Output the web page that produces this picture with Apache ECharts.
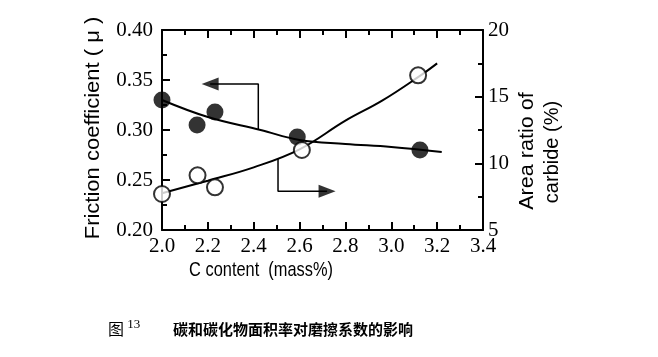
<!DOCTYPE html>
<html><head><meta charset="utf-8">
<script src="https://cdn.jsdelivr.net/npm/echarts@6/dist/echarts.min.js"></script>
<style>html,body{margin:0;padding:0;background:#fff}#c{width:658px;height:357px}</style>
</head><body><div id="c"></div>
<script>
// C content (mass%)
const frictionPts = [[2.0,0.330],[2.153,0.305],[2.231,0.318],[2.59,0.293],[3.125,0.280]];
const areaPts = [[2.0,7.7],[2.155,9.1],[2.231,8.2],[2.61,11.0],[3.117,16.6]];
const frictionFit = [[2.0,0.330],[2.2,0.313],[2.43,0.300],[2.6,0.290],[2.8,0.286],[3.0,0.283],[3.22,0.278]];
const areaFit = [[2.0,7.75],[2.2,8.7],[2.4,9.7],[2.6,11.05],[2.8,13.2],[2.96,14.7],[3.12,16.5],[3.2,17.5]];
const leftArrow = [[2.42,0.300],[2.42,0.346],[2.21,0.346]];
const leftArrowHead = [[2.21,0.346]];
const rightArrow = [[2.506,10.4],[2.506,7.9],[2.72,7.9]];
const rightArrowHead = [[2.72,7.9]];
const xTicks = {min:2.0, max:3.4, interval:0.2};
const yLeftTicks = {min:0.20, max:0.40, interval:0.05};
const yRightTicks = {min:5, max:20, interval:5};

const serif = "'Liberation Serif','Times New Roman',serif";
const sans = "'Liberation Sans',Arial,sans-serif";
const axLine = () => ({show:true, onZero:false, lineStyle:{color:'#000', width:2}});
const tick = () => ({show:true, inside:true, length:8, lineStyle:{color:'#000', width:2}});
const minor = () => ({show:true, splitNumber:2, length:5, lineStyle:{color:'#000', width:2}});
const chart = echarts.init(document.getElementById('c'));
chart.setOption({
  animation:false,
  backgroundColor:'#fff',
  grid:{left:162, right:175, top:30, bottom:127},
  xAxis:[{
    type:'value', min:xTicks.min, max:xTicks.max, interval:xTicks.interval,
    axisLine:axLine(), axisTick:tick(), minorTick:minor(), splitLine:{show:false},
    axisLabel:{color:'#000', fontFamily:serif, fontSize:21, margin:6, formatter:v=>v.toFixed(1)}
  },{
    type:'value', position:'top', min:xTicks.min, max:xTicks.max, interval:xTicks.interval,
    axisLine:axLine(), axisTick:tick(), minorTick:minor(), splitLine:{show:false}, axisLabel:{show:false}
  }],
  yAxis:[{
    type:'value', position:'left', min:yLeftTicks.min, max:yLeftTicks.max, interval:yLeftTicks.interval,
    axisLine:axLine(), axisTick:tick(), minorTick:minor(), splitLine:{show:false},
    axisLabel:{color:'#000', fontFamily:serif, fontSize:21, margin:9, formatter:v=>v.toFixed(2)}
  },{
    type:'value', position:'right', min:yRightTicks.min, max:yRightTicks.max, interval:yRightTicks.interval,
    axisLine:axLine(), axisTick:tick(), minorTick:minor(), splitLine:{show:false},
    axisLabel:{color:'#000', fontFamily:serif, fontSize:21, margin:5}
  }],
  series:[
    {type:'line', data:frictionFit, smooth:0.4, showSymbol:false, lineStyle:{color:'#000', width:2}, z:2},
    {type:'line', data:areaFit, yAxisIndex:1, smooth:0.4, showSymbol:false, lineStyle:{color:'#000', width:2}, z:2},
    {type:'scatter', data:frictionPts, symbol:'circle', symbolSize:17, itemStyle:{color:'#000'}, z:4},
    {type:'scatter', data:areaPts, yAxisIndex:1, symbol:'circle', symbolSize:16, itemStyle:{color:'#fff', borderColor:'#000', borderWidth:2}, z:5},
    {type:'line', data:leftArrow, showSymbol:false, lineStyle:{color:'#000', width:1.5}, z:3},
    {type:'scatter', data:leftArrowHead, symbol:'triangle', symbolRotate:90, symbolSize:[13,17], itemStyle:{color:'#000'}, z:3},
    {type:'line', data:rightArrow, yAxisIndex:1, showSymbol:false, lineStyle:{color:'#000', width:1.5}, z:3},
    {type:'scatter', data:rightArrowHead, yAxisIndex:1, symbol:'triangle', symbolRotate:-90, symbolSize:[13,17], itemStyle:{color:'#000'}, z:3}
  ],
  graphic:[
    {type:'text', x:93, y:128, rotation:Math.PI/2, scaleX:1.1, style:{text:'Friction coefficient ( \u03bc )', font:"20px "+sans, fill:'#000', align:'center', verticalAlign:'middle'}},
    {type:'text', x:527, y:151, rotation:Math.PI/2, scaleX:1.08, style:{text:'Area ratio of', font:"20px "+sans, fill:'#000', align:'center', verticalAlign:'middle'}},
    {type:'text', x:552, y:152, rotation:Math.PI/2, style:{text:'carbide (%)', font:"20px "+sans, fill:'#000', align:'center', verticalAlign:'middle'}},
    {type:'text', x:261, y:270, scaleX:0.78, style:{text:'C content  (mass%)', font:"21px "+sans, fill:'#000', align:'center', verticalAlign:'middle'}},
    {type:'text', x:108, y:329, style:{text:'{a|图} {s|13}', verticalAlign:'middle', rich:{a:{font:"16px 'Noto Sans CJK SC'", fill:'#000'}, s:{font:"13px "+serif, fill:'#000', verticalAlign:'top', padding:[0,0,8,0]}}}},
    {type:'text', x:173, y:329, style:{text:'碳和碳化物面积率对磨擦系数的影响', font:"bold 15px 'Noto Sans CJK SC'", fill:'#000', verticalAlign:'middle'}}
  ]
});
</script></body></html>
